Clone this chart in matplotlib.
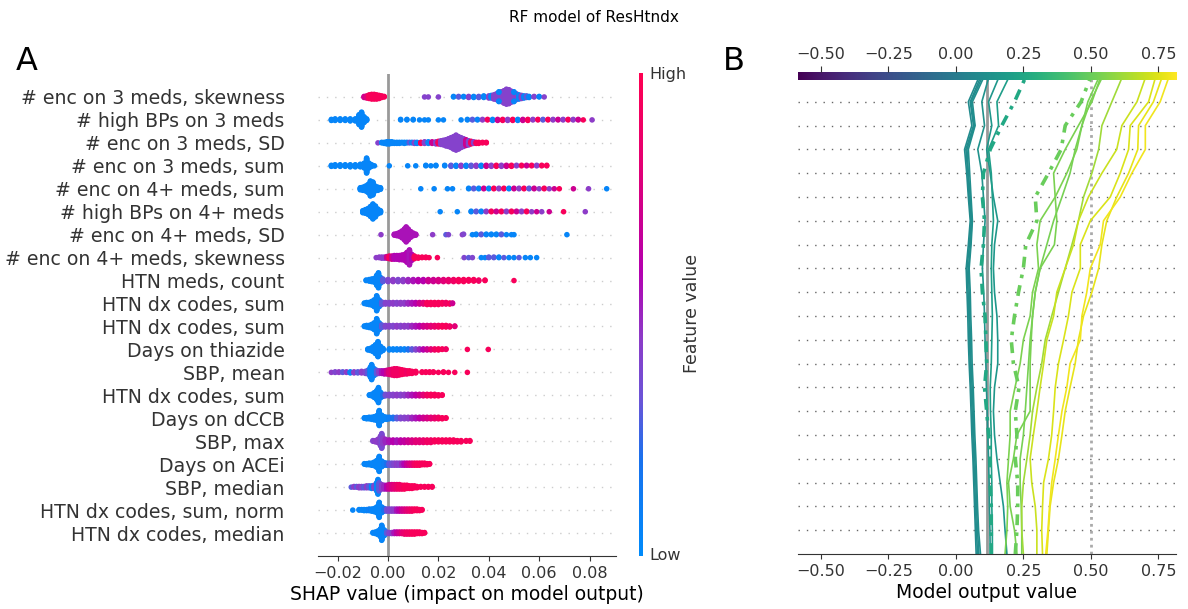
import numpy as np
import matplotlib
matplotlib.use("Agg")
import matplotlib.pyplot as plt
from matplotlib.colors import LinearSegmentedColormap, Normalize

# ---------------- data: panel A (SHAP summary) ----------------
features = ["# enc on 3 meds, skewness", "# high BPs on 3 meds", "# enc on 3 meds, SD",
            "# enc on 3 meds, sum", "# enc on 4+ meds, sum", "# high BPs on 4+ meds",
            "# enc on 4+ meds, SD", "# enc on 4+ meds, skewness", "HTN meds, count",
            "HTN dx codes, sum", "HTN dx codes, sum", "Days on thiazide", "SBP, mean",
            "HTN dx codes, sum", "Days on dCCB", "SBP, max", "Days on ACEi", "SBP, median",
            "HTN dx codes, sum, norm", "HTN dx codes, median"]

# (shap value, number of samples, feature value 0=low 1=high)
skew3 = [(-0.0095, 3, 0.7), (-0.0085, 5, 0.8), (-0.0075, 8, 0.95), (-0.0065, 10, 0.95), (-0.0055, 10, 0.95),
         (-0.0045, 9, 0.95), (-0.0035, 7, 0.95), (-0.0025, 4, 0.95), (-0.0015, 2, 0.95),
         (0.0145, 1, 0.42), (0.016, 1, 0.42), (0.020, 1, 0.42),
         (0.026, 2, 0.05), (0.028, 2, 0.3), (0.030, 2, 0.05), (0.032, 3, 0.42), (0.034, 3, 0.05),
         (0.036, 3, 0.3), (0.038, 4, 0.05), (0.040, 5, 0.42), (0.041, 6, 0.05),
         (0.042, 9, 0.42), (0.043, 12, 0.42), (0.044, 16, 0.42), (0.045, 20, 0.42), (0.046, 25, 0.42),
         (0.047, 30, 0.42), (0.048, 28, 0.42), (0.049, 22, 0.42), (0.050, 16, 0.42), (0.051, 12, 0.42),
         (0.052, 9, 0.05), (0.053, 7, 0.42), (0.054, 5, 0.05), (0.055, 4, 0.3), (0.056, 3, 0.05),
         (0.044, 4, 0.05), (0.050, 4, 0.05),
         (0.058, 2, 0.42), (0.060, 2, 0.05), (0.062, 1, 0.42)]
hbp3 = [(-0.0225, 3, 0.05), (-0.021, 4, 0.05), (-0.019, 4, 0.05), (-0.017, 4, 0.05), (-0.015, 5, 0.05),
        (-0.013, 5, 0.05), (-0.012, 6, 0.05), (-0.0115, 20, 0.05), (-0.0105, 30, 0.05), (-0.0095, 12, 0.05),
        (-0.0085, 4, 0.05),
        (0.005, 2, 0.05), (0.0075, 2, 0.05), (0.010, 2, 0.05), (0.0125, 1, 0.05), (0.0145, 1, 0.05),
        (0.016, 1, 0.05), (0.020, 1, 0.05), (0.022, 1, 0.05), (0.029, 1, 0.05),
        (0.0315, 2, 0.05), (0.0335, 2, 0.3), (0.0355, 2, 0.05), (0.0375, 2, 0.45), (0.0395, 2, 0.95),
        (0.0415, 3, 0.05), (0.0435, 3, 0.7), (0.0455, 3, 0.95), (0.0475, 3, 0.45), (0.0495, 3, 0.95),
        (0.0515, 3, 0.05), (0.0535, 3, 0.7), (0.0555, 3, 0.95), (0.0575, 2, 0.45), (0.0595, 2, 0.95),
        (0.0615, 2, 0.3), (0.0635, 2, 0.95), (0.0655, 2, 0.45), (0.0675, 2, 0.7), (0.0695, 2, 0.45),
        (0.0715, 2, 0.95), (0.0735, 2, 0.45), (0.0755, 2, 0.7), (0.0775, 1, 0.95), (0.081, 1, 0.45)]
sd3 = [(-0.004, 1, 0.42), (-0.0025, 2, 0.05), (-0.0015, 3, 0.05), (-0.0005, 5, 0.05), (0.0005, 5, 0.05),
       (0.0015, 4, 0.05), (0.0025, 3, 0.05), (0.0035, 3, 0.05), (0.0045, 3, 0.05), (0.0055, 2, 0.05),
       (0.0065, 3, 0.05), (0.0075, 2, 0.05), (0.0085, 2, 0.3), (0.0095, 2, 0.05), (0.0105, 3, 0.42),
       (0.0115, 3, 0.05), (0.013, 3, 0.95), (0.0145, 4, 0.42), (0.016, 4, 0.05), (0.0175, 4, 0.7),
       (0.019, 5, 0.42), (0.020, 6, 0.95), (0.021, 8, 0.42), (0.022, 10, 0.42), (0.023, 13, 0.42),
       (0.024, 16, 0.42), (0.025, 20, 0.42), (0.026, 25, 0.42), (0.027, 30, 0.42), (0.028, 25, 0.42),
       (0.029, 20, 0.42), (0.030, 16, 0.42), (0.031, 12, 0.7), (0.032, 9, 0.42), (0.033, 6, 0.95),
       (0.034, 4, 0.42), (0.035, 3, 0.95), (0.036, 3, 0.95), (0.0375, 2, 0.95), (0.039, 2, 0.95)]
sum3 = [(-0.0225, 3, 0.05), (-0.021, 4, 0.05), (-0.019, 4, 0.05), (-0.017, 4, 0.05), (-0.015, 5, 0.05),
        (-0.013, 5, 0.05), (-0.011, 6, 0.05), (-0.0095, 10, 0.05), (-0.0085, 30, 0.05), (-0.0075, 10, 0.05),
        (-0.0065, 4, 0.05), (-0.0054, 1, 0.05), (0.0005, 1, 0.05), (0.0078, 1, 0.05), (0.011, 1, 0.05),
        (0.015, 2, 0.05), (0.017, 1, 0.05), (0.019, 2, 0.05), (0.0225, 2, 0.05), (0.025, 3, 0.3),
        (0.027, 3, 0.05), (0.029, 3, 0.45), (0.031, 3, 0.05), (0.033, 3, 0.3), (0.035, 3, 0.45),
        (0.037, 3, 0.05), (0.039, 3, 0.7), (0.041, 3, 0.45), (0.043, 3, 0.95), (0.045, 3, 0.45),
        (0.047, 3, 0.7), (0.049, 3, 0.95), (0.051, 2, 0.45), (0.053, 2, 0.95), (0.055, 2, 0.7),
        (0.057, 2, 0.95), (0.059, 2, 0.45), (0.061, 2, 0.95), (0.063, 2, 0.95)]
sum4 = [(-0.011, 5, 0.05), (-0.010, 7, 0.05), (-0.009, 10, 0.05), (-0.008, 16, 0.05), (-0.007, 30, 0.05),
        (-0.006, 26, 0.05), (-0.005, 10, 0.05), (-0.004, 7, 0.05), (-0.003, 4, 0.05),
        (0.013, 1, 0.05), (0.0183, 1, 0.05), (0.0236, 1, 0.05), (0.0256, 1, 0.05),
        (0.032, 2, 0.05), (0.034, 2, 0.3), (0.036, 2, 0.05), (0.038, 2, 0.7), (0.040, 2, 0.05),
        (0.042, 2, 0.95), (0.044, 2, 0.45), (0.046, 2, 0.95), (0.048, 2, 0.05), (0.050, 2, 0.7),
        (0.052, 2, 0.45), (0.054, 2, 0.95), (0.056, 2, 0.3), (0.058, 2, 0.7), (0.060, 1, 0.45),
        (0.062, 2, 0.95), (0.064, 1, 0.45), (0.066, 1, 0.7), (0.068, 1, 0.95), (0.0736, 1, 0.7),
        (0.0796, 1, 0.45), (0.0868, 1, 0.05)]
hbp4 = [(-0.010, 5, 0.05), (-0.009, 8, 0.05), (-0.008, 12, 0.05), (-0.007, 20, 0.05), (-0.006, 30, 0.05),
        (-0.005, 22, 0.05), (-0.004, 10, 0.05), (-0.003, 5, 0.05),
        (0.0207, 1, 0.05), (0.0275, 1, 0.05), (0.033, 2, 0.05), (0.035, 2, 0.3), (0.037, 2, 0.05),
        (0.039, 2, 0.45), (0.041, 2, 0.95), (0.043, 2, 0.7), (0.045, 2, 0.95), (0.047, 2, 0.45),
        (0.049, 2, 0.95), (0.051, 2, 0.7), (0.053, 2, 0.45), (0.055, 2, 0.95), (0.057, 1, 0.45),
        (0.059, 1, 0.7), (0.061, 1, 0.45), (0.064, 1, 0.7), (0.0697, 1, 0.95), (0.0783, 1, 0.45)]
sd4 = [(-0.0028, 1, 0.45), (0.0025, 3, 0.55), (0.0035, 5, 0.55), (0.0045, 8, 0.55), (0.0055, 14, 0.55),
       (0.0065, 22, 0.55), (0.0072, 30, 0.55), (0.0080, 22, 0.55), (0.0090, 12, 0.55), (0.0100, 6, 0.55),
       (0.0110, 3, 0.55), (0.0177, 1, 0.45), (0.023, 1, 0.3), (0.024, 1, 0.4), (0.0295, 1, 0.45),
       (0.030, 1, 0.4), (0.0335, 1, 0.05), (0.035, 2, 0.05), (0.037, 2, 0.3), (0.039, 2, 0.05),
       (0.041, 2, 0.05), (0.043, 2, 0.05), (0.045, 2, 0.3), (0.047, 1, 0.05), (0.049, 1, 0.05),
       (0.050, 1, 0.05), (0.071, 1, 0.05)]
skew4 = [(-0.0047, 1, 0.45), (-0.0035, 2, 0.45), (-0.0025, 3, 0.45), (-0.0015, 3, 0.45), (-0.0005, 4, 0.7),
         (0.0005, 6, 0.95), (0.0015, 7, 0.7), (0.0025, 8, 0.58), (0.0035, 8, 0.58), (0.0045, 9, 0.58),
         (0.0055, 10, 0.58), (0.0065, 12, 0.58), (0.0075, 20, 0.58), (0.0085, 30, 0.55), (0.0095, 12, 0.58),
         (0.0105, 6, 0.95), (0.012, 3, 0.95), (0.0135, 2, 0.95), (0.015, 2, 0.95), (0.0163, 1, 0.95),
         (0.0196, 1, 0.95), (0.0302, 1, 0.4), (0.032, 1, 0.3), (0.0335, 1, 0.4), (0.037, 1, 0.05),
         (0.0385, 1, 0.05), (0.040, 2, 0.3), (0.042, 2, 0.3), (0.044, 2, 0.05), (0.046, 1, 0.3),
         (0.048, 1, 0.05), (0.050, 1, 0.05), (0.052, 1, 0.3), (0.0545, 1, 0.05), (0.0565, 1, 0.05),
         (0.059, 1, 0.05)]
htn_meds = [(-0.0087, 2, 0.05), (-0.0075, 4, 0.05), (-0.0065, 6, 0.05), (-0.0055, 8, 0.05), (-0.0045, 20, 0.05),
            (-0.0038, 30, 0.05), (-0.003, 12, 0.05), (-0.002, 6, 0.3), (0.000, 5, 0.4), (0.002, 5, 0.45),
            (0.004, 5, 0.4), (0.006, 5, 0.45), (0.008, 5, 0.5), (0.010, 5, 0.55), (0.012, 5, 0.6),
            (0.014, 5, 0.6), (0.016, 5, 0.7), (0.018, 5, 0.7), (0.020, 5, 0.75), (0.022, 5, 0.8),
            (0.024, 5, 0.85), (0.026, 5, 0.9), (0.028, 5, 0.95), (0.030, 5, 0.95), (0.032, 4, 0.95),
            (0.034, 4, 0.95), (0.036, 3, 0.9), (0.0385, 2, 0.95), (0.050, 1, 0.95)]
dx_sum_a = [(-0.0094, 2, 0.05), (-0.0085, 4, 0.05), (-0.0075, 5, 0.05), (-0.0065, 8, 0.05), (-0.0055, 14, 0.05),
            (-0.0045, 30, 0.05), (-0.0035, 14, 0.05), (-0.0025, 6, 0.3), (-0.001, 4, 0.42), (0.0005, 4, 0.42),
            (0.002, 4, 0.45), (0.0035, 4, 0.42), (0.005, 4, 0.45), (0.0065, 4, 0.45), (0.008, 4, 0.5),
            (0.0095, 4, 0.55), (0.011, 4, 0.6), (0.0125, 4, 0.7), (0.014, 4, 0.8), (0.0155, 5, 0.95),
            (0.017, 5, 0.95), (0.0185, 5, 0.95), (0.020, 5, 0.95), (0.0215, 4, 0.95), (0.023, 4, 0.9),
            (0.0245, 3, 0.95), (0.0256, 2, 0.7)]
dx_sum_b = [(-0.0094, 2, 0.05), (-0.0085, 4, 0.05), (-0.0075, 5, 0.05), (-0.0065, 8, 0.05), (-0.0055, 14, 0.05),
            (-0.0045, 30, 0.05), (-0.0035, 14, 0.05), (-0.0025, 6, 0.3), (-0.001, 4, 0.4), (0.0005, 4, 0.42),
            (0.002, 4, 0.4), (0.0035, 4, 0.45), (0.005, 4, 0.42), (0.0065, 4, 0.45), (0.008, 4, 0.45),
            (0.0095, 4, 0.5), (0.011, 4, 0.55), (0.0125, 4, 0.6), (0.014, 4, 0.7), (0.0155, 4, 0.75),
            (0.017, 4, 0.8), (0.0185, 4, 0.85), (0.020, 4, 0.9), (0.0215, 4, 0.95), (0.023, 4, 0.95),
            (0.0245, 3, 0.9), (0.0265, 2, 0.8)]
thiazide = [(-0.008, 3, 0.05), (-0.007, 5, 0.05), (-0.006, 10, 0.05), (-0.005, 18, 0.05), (-0.004, 30, 0.05),
            (-0.003, 12, 0.05), (-0.002, 5, 0.05), (0.0005, 3, 0.05), (0.002, 3, 0.05), (0.0035, 3, 0.05),
            (0.005, 3, 0.1), (0.0065, 3, 0.05), (0.008, 3, 0.2), (0.0095, 3, 0.3), (0.011, 3, 0.4),
            (0.0125, 3, 0.5), (0.014, 3, 0.6), (0.0155, 3, 0.7), (0.017, 3, 0.8), (0.0185, 3, 0.9),
            (0.020, 3, 0.95), (0.0215, 2, 0.95), (0.023, 2, 0.9), (0.0315, 1, 0.95), (0.0398, 1, 0.95)]
sbp_mean = [(-0.0225, 1, 0.45), (-0.021, 2, 0.4), (-0.0195, 2, 0.45), (-0.018, 2, 0.3), (-0.0165, 2, 0.45),
            (-0.015, 3, 0.05), (-0.0135, 3, 0.45), (-0.012, 3, 0.3), (-0.0105, 4, 0.45), (-0.009, 5, 0.4),
            (-0.008, 8, 0.3), (-0.007, 20, 0.05), (-0.0065, 30, 0.05), (-0.0055, 14, 0.05), (-0.0045, 8, 0.3),
            (-0.0035, 6, 0.45), (-0.0025, 6, 0.55), (-0.0015, 7, 0.6), (-0.0005, 8, 0.7), (0.0005, 10, 0.8),
            (0.0015, 12, 0.85), (0.0025, 14, 0.9), (0.0035, 14, 0.9), (0.0045, 12, 0.9), (0.0055, 10, 0.95),
            (0.0065, 8, 0.95), (0.0075, 7, 0.9), (0.0085, 6, 0.95), (0.0095, 5, 0.95), (0.011, 4, 0.95),
            (0.0135, 2, 0.95), (0.015, 2, 0.95), (0.0165, 2, 0.95), (0.018, 2, 0.95), (0.020, 1, 0.95),
            (0.022, 2, 0.95), (0.024, 1, 0.95), (0.0265, 1, 0.95), (0.0315, 1, 0.95)]
dx_sum_c = [(-0.0074, 2, 0.05), (-0.0065, 4, 0.05), (-0.0055, 10, 0.05), (-0.0045, 18, 0.05), (-0.0038, 30, 0.05),
            (-0.003, 12, 0.05), (-0.002, 5, 0.2), (-0.001, 4, 0.35), (0.0005, 4, 0.4), (0.002, 4, 0.42),
            (0.0035, 4, 0.45), (0.005, 4, 0.42), (0.0065, 4, 0.45), (0.008, 4, 0.5), (0.0095, 4, 0.55),
            (0.011, 4, 0.62), (0.0125, 4, 0.7), (0.014, 4, 0.8), (0.0155, 4, 0.9), (0.017, 4, 0.95),
            (0.0185, 4, 0.95), (0.020, 3, 0.95), (0.0215, 2, 0.95)]
dccb = [(-0.0094, 2, 0.05), (-0.0085, 3, 0.05), (-0.0075, 4, 0.05), (-0.0065, 5, 0.05), (-0.0055, 7, 0.05),
        (-0.0045, 10, 0.05), (-0.0035, 30, 0.05), (-0.0025, 12, 0.05), (-0.0015, 6, 0.05), (-0.0005, 5, 0.05),
        (0.0005, 4, 0.1), (0.002, 4, 0.2), (0.0035, 4, 0.3), (0.005, 4, 0.4), (0.0065, 4, 0.42),
        (0.008, 4, 0.45), (0.0095, 4, 0.5), (0.011, 4, 0.55), (0.0125, 4, 0.62), (0.014, 4, 0.7),
        (0.0155, 4, 0.75), (0.017, 4, 0.8), (0.0185, 4, 0.85), (0.020, 4, 0.9), (0.0215, 3, 0.95),
        (0.023, 2, 0.95)]
sbp_max = [(-0.006, 2, 0.42), (-0.005, 3, 0.45), (-0.004, 6, 0.45), (-0.003, 16, 0.42), (-0.0025, 24, 0.38),
           (-0.002, 10, 0.45), (-0.001, 6, 0.5), (0.0005, 5, 0.55), (0.002, 5, 0.6), (0.0035, 5, 0.55),
           (0.005, 5, 0.62), (0.0065, 5, 0.65), (0.008, 5, 0.7), (0.0095, 5, 0.75), (0.011, 5, 0.8),
           (0.0125, 5, 0.8), (0.014, 5, 0.85), (0.0155, 5, 0.9), (0.017, 5, 0.9), (0.0185, 4, 0.95),
           (0.020, 4, 0.95), (0.0215, 4, 0.95), (0.023, 4, 0.95), (0.0245, 4, 0.95), (0.026, 4, 0.95),
           (0.0275, 3, 0.95), (0.029, 3, 0.95), (0.031, 2, 0.95), (0.0325, 2, 0.95)]
acei = [(-0.0094, 2, 0.05), (-0.0085, 3, 0.05), (-0.0075, 4, 0.05), (-0.0065, 5, 0.05), (-0.0055, 8, 0.05),
        (-0.0045, 14, 0.05), (-0.0035, 30, 0.05), (-0.0025, 12, 0.05), (-0.0015, 6, 0.1), (-0.0005, 5, 0.2),
        (0.0005, 5, 0.3), (0.0015, 5, 0.35), (0.0025, 5, 0.4), (0.0035, 5, 0.45), (0.0045, 5, 0.42),
        (0.0055, 5, 0.5), (0.0065, 5, 0.58), (0.0075, 5, 0.68), (0.0085, 5, 0.75), (0.0095, 5, 0.8),
        (0.0105, 5, 0.9), (0.0115, 5, 0.95), (0.0125, 5, 0.95), (0.0135, 4, 0.95), (0.0145, 4, 0.95),
        (0.0155, 3, 0.95), (0.0165, 2, 0.95)]
sbp_median = [(-0.0146, 1, 0.3), (-0.0135, 2, 0.45), (-0.0125, 2, 0.3), (-0.0115, 3, 0.45), (-0.0105, 3, 0.4),
              (-0.0095, 3, 0.3), (-0.0085, 4, 0.45), (-0.0075, 4, 0.3), (-0.0065, 5, 0.05), (-0.0055, 6, 0.4),
              (-0.0045, 14, 0.05), (-0.004, 24, 0.05), (-0.0035, 14, 0.3), (-0.0025, 8, 0.45), (-0.0015, 7, 0.5),
              (-0.0005, 7, 0.6), (0.0005, 8, 0.7), (0.0015, 8, 0.75), (0.0025, 8, 0.8), (0.0035, 8, 0.85),
              (0.0045, 8, 0.9), (0.0055, 7, 0.9), (0.0065, 7, 0.95), (0.0075, 6, 0.95), (0.0085, 5, 0.95),
              (0.0095, 5, 0.95), (0.0105, 4, 0.95), (0.0115, 3, 0.95), (0.013, 2, 0.95), (0.0145, 2, 0.95),
              (0.016, 2, 0.95), (0.0175, 2, 0.95)]
dx_norm = [(-0.014, 1, 0.05), (-0.0115, 2, 0.05), (-0.0105, 2, 0.05), (-0.0095, 3, 0.05), (-0.0085, 3, 0.05),
           (-0.0075, 4, 0.1), (-0.0065, 5, 0.05), (-0.0055, 7, 0.05), (-0.0045, 12, 0.05), (-0.0035, 30, 0.05),
           (-0.0025, 12, 0.05), (-0.0015, 6, 0.2), (-0.0005, 5, 0.35), (0.0005, 5, 0.4), (0.0015, 5, 0.42),
           (0.0025, 5, 0.45), (0.0035, 5, 0.55), (0.0045, 5, 0.62), (0.0055, 5, 0.7), (0.0065, 5, 0.75),
           (0.0075, 5, 0.8), (0.0085, 5, 0.85), (0.0095, 5, 0.9), (0.0105, 4, 0.95), (0.0115, 4, 0.95),
           (0.0125, 3, 0.95), (0.0135, 2, 0.95)]
dx_median = [(-0.006, 2, 0.05), (-0.005, 4, 0.05), (-0.004, 8, 0.05), (-0.003, 16, 0.05), (-0.0025, 30, 0.05),
             (-0.0015, 12, 0.05), (-0.0005, 4, 0.3), (0.0005, 3, 0.42), (0.0015, 3, 0.45), (0.0025, 4, 0.55),
             (0.0035, 4, 0.65), (0.0045, 4, 0.72), (0.0055, 4, 0.8), (0.0065, 5, 0.85), (0.0075, 5, 0.9),
             (0.0085, 5, 0.9), (0.0095, 5, 0.95), (0.0105, 5, 0.95), (0.0115, 4, 0.95), (0.0125, 4, 0.95),
             (0.0135, 3, 0.95), (0.0145, 2, 0.95)]

rows = [skew3, hbp3, sd3, sum3, sum4, hbp4, sd4, skew4, htn_meds, dx_sum_a, dx_sum_b, thiazide,
        sbp_mean, dx_sum_c, dccb, sbp_max, acei, sbp_median, dx_norm, dx_median]

# ---------------- data: panel B (decision plot), cumulative output bottom -> top ----------------
base_value = 0.115
teal_1 = [0.075, 0.072, 0.069, 0.066, 0.063, 0.059, 0.056, 0.053, 0.049, 0.046, 0.044, 0.041, 0.038, 0.046, 0.053, 0.046, 0.040, 0.032, 0.059, 0.046, 0.084]
teal_2 = [0.080, 0.076, 0.072, 0.070, 0.066, 0.063, 0.060, 0.056, 0.053, 0.050, 0.048, 0.045, 0.041, 0.050, 0.056, 0.049, 0.044, 0.037, 0.065, 0.053, 0.090]
teal_3 = [0.085, 0.080, 0.076, 0.074, 0.070, 0.066, 0.064, 0.060, 0.056, 0.054, 0.051, 0.049, 0.046, 0.054, 0.059, 0.053, 0.046, 0.041, 0.069, 0.056, 0.096]
teal_4 = [0.091, 0.084, 0.080, 0.077, 0.074, 0.070, 0.067, 0.064, 0.060, 0.058, 0.055, 0.053, 0.049, 0.056, 0.061, 0.056, 0.051, 0.046, 0.071, 0.061, 0.102]
teal_5 = [0.127, 0.126, 0.124, 0.123, 0.121, 0.118, 0.116, 0.113, 0.111, 0.108, 0.106, 0.103, 0.098, 0.102, 0.108, 0.102, 0.096, 0.081, 0.106, 0.096, 0.121]
teal_6 = [0.189, 0.182, 0.176, 0.164, 0.152, 0.143, 0.139, 0.143, 0.155, 0.155, 0.152, 0.143, 0.139, 0.143, 0.155, 0.139, 0.127, 0.114, 0.133, 0.121, 0.158]
teal_7 = [0.135, 0.135, 0.133, 0.133, 0.131, 0.131, 0.128, 0.127, 0.131, 0.133, 0.135, 0.133, 0.131, 0.133, 0.139, 0.135, 0.131, 0.121, 0.158, 0.152, 0.195]
teal_hl = [0.131, 0.131, 0.131, 0.127, 0.127, 0.121, 0.114, 0.106, 0.114, 0.111, 0.108, 0.098, 0.093, 0.102, 0.106, 0.098, 0.102, 0.127, 0.170, 0.217, 0.257]
green_hl = [0.220, 0.226, 0.229, 0.229, 0.220, 0.226, 0.220, 0.234, 0.213, 0.205, 0.217, 0.232, 0.250, 0.259, 0.300, 0.294, 0.343, 0.390, 0.405, 0.464, 0.498]
green_1 = [0.182, 0.189, 0.192, 0.189, 0.195, 0.201, 0.201, 0.219, 0.238, 0.250, 0.275, 0.284, 0.306, 0.300, 0.312, 0.368, 0.411, 0.448, 0.467, 0.498, 0.541]
green_2 = [0.226, 0.217, 0.201, 0.195, 0.213, 0.226, 0.275, 0.275, 0.275, 0.279, 0.284, 0.294, 0.312, 0.365, 0.374, 0.368, 0.362, 0.405, 0.454, 0.504, 0.535]
green_3 = [0.244, 0.244, 0.242, 0.238, 0.238, 0.250, 0.257, 0.263, 0.269, 0.275, 0.284, 0.294, 0.312, 0.337, 0.362, 0.393, 0.423, 0.442, 0.467, 0.489, 0.529]
green_4 = [0.250, 0.244, 0.244, 0.250, 0.263, 0.275, 0.284, 0.300, 0.318, 0.331, 0.355, 0.380, 0.405, 0.430, 0.454, 0.473, 0.504, 0.529, 0.541, 0.578, 0.615]
yellow_1 = [0.300, 0.300, 0.294, 0.281, 0.275, 0.287, 0.300, 0.312, 0.325, 0.337, 0.362, 0.374, 0.405, 0.436, 0.454, 0.491, 0.541, 0.596, 0.615, 0.671, 0.702]
yellow_2 = [0.321, 0.318, 0.321, 0.325, 0.343, 0.355, 0.362, 0.368, 0.380, 0.399, 0.417, 0.430, 0.461, 0.461, 0.498, 0.572, 0.609, 0.640, 0.646, 0.714, 0.739]
yellow_3 = [0.337, 0.343, 0.349, 0.362, 0.380, 0.393, 0.405, 0.423, 0.442, 0.454, 0.473, 0.504, 0.529, 0.541, 0.559, 0.596, 0.640, 0.674, 0.677, 0.732, 0.763]
yellow_4 = [0.333, 0.341, 0.347, 0.355, 0.368, 0.380, 0.393, 0.411, 0.423, 0.461, 0.467, 0.485, 0.498, 0.535, 0.547, 0.609, 0.652, 0.702, 0.702, 0.757, 0.788]

paths = [teal_1, teal_2, teal_3, teal_4, teal_5, teal_6, teal_7, green_1, green_2, green_3, green_4,
         yellow_1, yellow_2, yellow_3, yellow_4]
highlighted = [teal_hl, green_hl]

# ---------------- styling ----------------
red_blue = LinearSegmentedColormap.from_list("red_blue", [
    (0.0, "#008bfb"), (0.2, "#1a72ee"), (0.32, "#6a55d8"), (0.45, "#8d3cc8"),
    (0.59, "#b400b0"), (0.7, "#cc0090"), (0.82, "#e60072"), (1.0, "#ff0052")])
W, H = 1188, 609


def px_box(x0, y0, x1, y1):
    # pixel box (top-left origin) -> figure rect
    return [x0 / W, 1 - y1 / H, (x1 - x0) / W, (y1 - y0) / H]


def beeswarm_y(xs, row_height=0.4):
    quant = np.round(100 * (xs - xs.min()) / (xs.max() - xs.min() + 1e-8))
    inds = np.argsort(quant, kind="stable")
    ys = np.zeros(len(xs))
    layer, last_bin = 0, -1
    for i in inds:
        if quant[i] != last_bin:
            layer = 0
        ys[i] = np.ceil(layer / 2) * ((layer % 2) * 2 - 1)
        layer += 1
        last_bin = quant[i]
    return ys * 0.9 * (row_height / np.max(ys + 1))


fig = plt.figure(figsize=(W / 100, H / 100), dpi=100)

# ---------------- panel A ----------------
ax = fig.add_axes(px_box(318, 74, 616, 556))
n = len(features)
for i, clusters in enumerate(rows):
    pos = n - 1 - i
    xs = np.repeat([c[0] for c in clusters], [c[1] for c in clusters])
    cs = np.repeat([c[2] for c in clusters], [c[1] for c in clusters])
    ys = beeswarm_y(xs)
    ax.axhline(pos, color="#cccccc", lw=1, dashes=(1, 5), zorder=-1)
    ax.scatter(xs, pos + ys, c=cs, cmap=red_blue, vmin=0, vmax=1, s=16, linewidths=0, zorder=3)

ax.axvline(0, color="#999999", lw=2, zorder=-1)
ax.set_ylim(-1, n)
ax.set_xlim(-0.0278, 0.0905)
ax.set_yticks(range(n))
ax.set_yticklabels(features[::-1], fontsize=13.6, color="#333333")
ax.tick_params(axis="y", length=0, pad=24)
ax.tick_params(axis="x", labelsize=11.5, colors="#333333")
ax.set_xticks([-0.02, 0.0, 0.02, 0.04, 0.06, 0.08])
ax.set_xticklabels(["\u22120.02", "0.00", "0.02", "0.04", "0.06", "0.08"])
for s in ["left", "right", "top"]:
    ax.spines[s].set_visible(False)
ax.spines["bottom"].set_color("#333333")
ax.set_xlabel("SHAP value (impact on model output)", fontsize=13.5, labelpad=3)

cax = fig.add_axes(px_box(639, 73, 643, 556))
cax.imshow(np.linspace(0, 1, 256)[:, None], aspect="auto", cmap=red_blue, origin="lower")
cax.axis("off")
fig.text(649 / W, 1 - 75 / H, "High", fontsize=11.5, va="center", ha="left", color="#333333")
fig.text(649 / W, 1 - 556 / H, "Low", fontsize=11.5, va="center", ha="left", color="#333333")
fig.text(692 / W, 1 - 313 / H, "Feature value", fontsize=12.5, va="center", ha="center",
         rotation=90, color="#333333")

# ---------------- panel B ----------------
xlim = (-0.5865, 0.8157)
norm = Normalize(*xlim)
ax2 = fig.add_axes(px_box(797.7, 78, 1176, 554))
levels = np.arange(n + 1)
for k in range(1, n):
    ax2.axhline(k, color="#666666", lw=1, dashes=(1, 5), zorder=-1)
ax2.axvline(base_value, color="#999999", lw=2, zorder=-1)
ax2.axvline(0.5, color="#aaaaaa", lw=2, linestyle=(0, (1, 1.5)), zorder=-1)
for p in paths:
    ax2.plot(p, levels, color=plt.cm.viridis(norm(p[-1])), lw=1.2, zorder=2)
for p in highlighted:
    ax2.plot(p, levels, color=plt.cm.viridis(norm(p[-1])), lw=2.6,
             linestyle=(0, (3, 2, 1, 2)), zorder=3)
ax2.set_xlim(xlim)
ax2.set_ylim(0, n)
ax2.set_yticks([])
ticks = [-0.5, -0.25, 0.0, 0.25, 0.5, 0.75]
tick_lbl = ["\u22120.50", "\u22120.25", "0.00", "0.25", "0.50", "0.75"]
ax2.set_xticks(ticks)
ax2.set_xticklabels(tick_lbl)
ax2.tick_params(axis="x", labelsize=11.5, colors="#333333")
for s in ["left", "right", "top"]:
    ax2.spines[s].set_visible(False)
ax2.spines["bottom"].set_color("#333333")
ax2.set_xlabel("Model output value", fontsize=13.5, labelpad=3)

bar = fig.add_axes(px_box(797.7, 72, 1176, 80))
bar.imshow(np.linspace(0, 1, 256)[None, :], aspect="auto", cmap="viridis",
           extent=(xlim[0], xlim[1], 0, 1))
bar.set_xlim(xlim)
bar.set_yticks([])
bar.xaxis.tick_top()
bar.set_xticks(ticks)
bar.set_xticklabels(tick_lbl)
bar.tick_params(axis="x", labelsize=11.5, colors="#333333", length=4)
for s in bar.spines.values():
    s.set_visible(False)

# ---------------- titles ----------------
fig.text(0.5, 1 - 17 / H, "RF model of ResHtndx", fontsize=11, ha="center", va="center")
fig.text(16 / W, 1 - 62 / H, "A", fontsize=23, ha="left", va="center")
fig.text(723 / W, 1 - 62 / H, "B", fontsize=23, ha="left", va="center")

fig.savefig("out.png", dpi=100)
